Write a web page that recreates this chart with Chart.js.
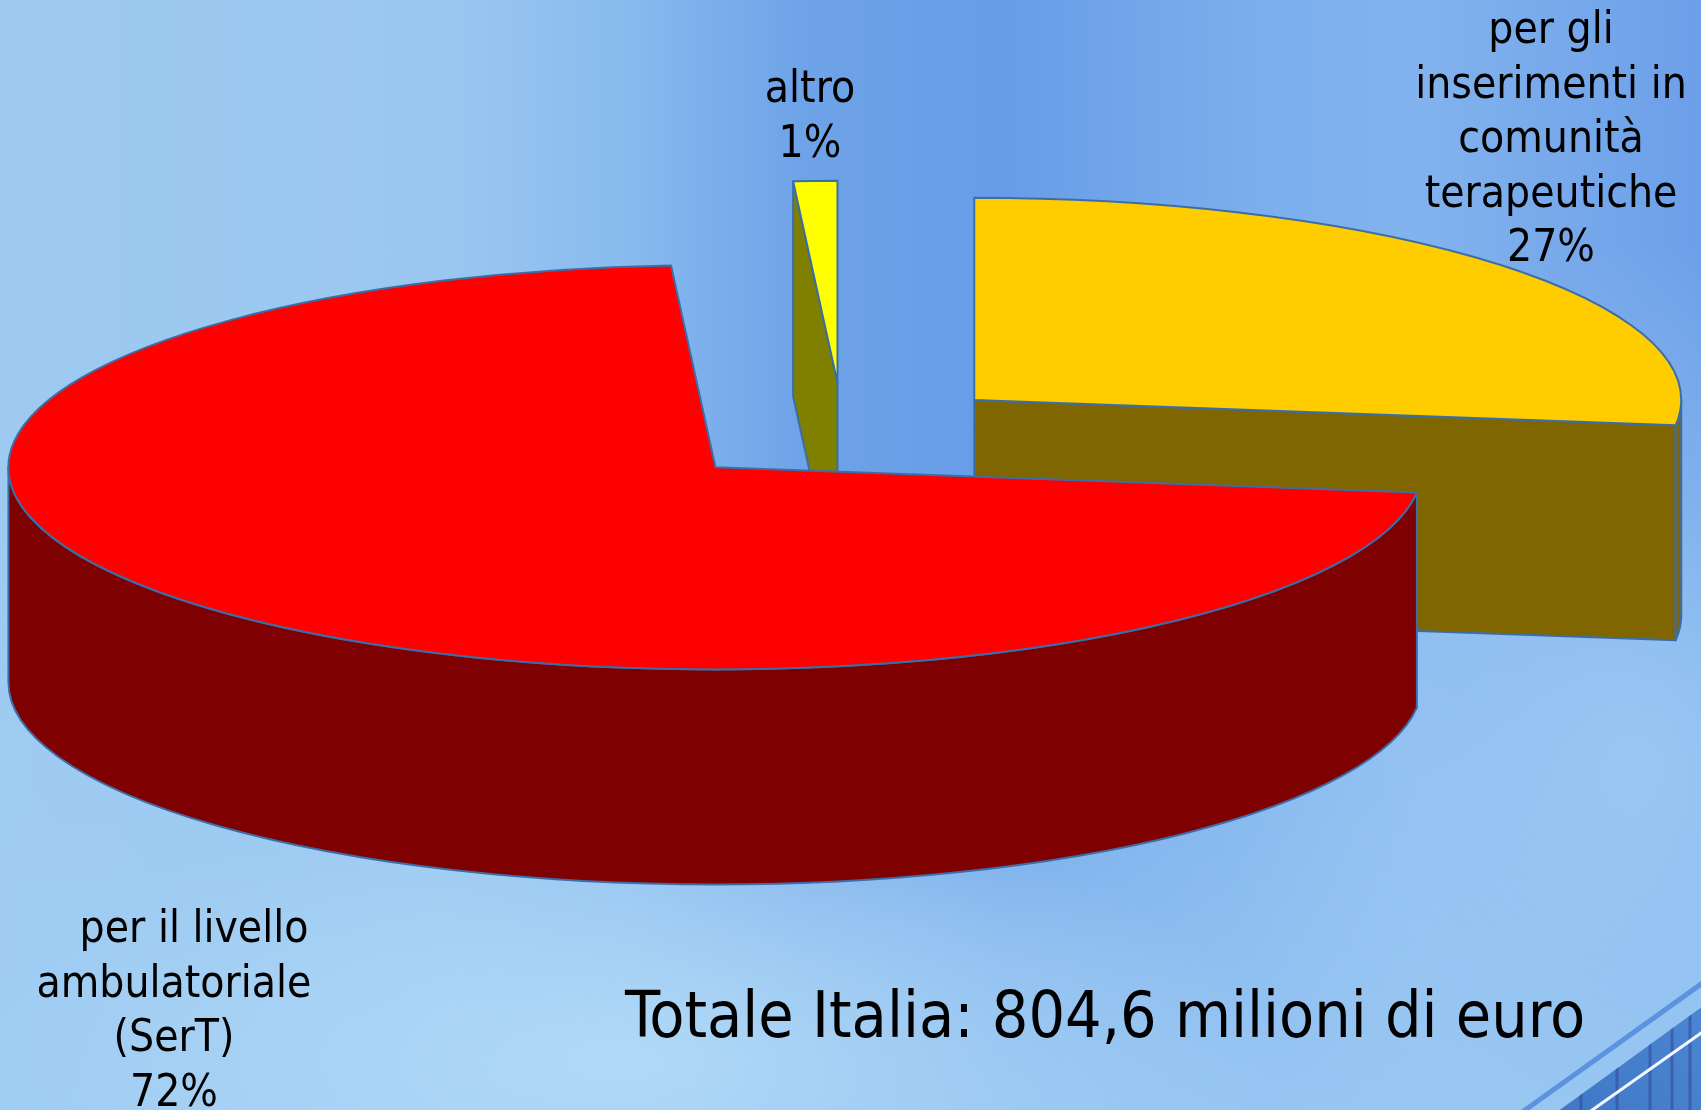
<!DOCTYPE html>
<html>
<head>
<meta charset="utf-8">
<script src="https://cdn.jsdelivr.net/npm/chart.js@4/dist/chart.umd.min.js"></script>
<style>
  html, body { margin: 0; padding: 0; width: 1701px; height: 1110px; overflow: hidden; }
  body {
    background:
      radial-gradient(ellipse 650px 260px at 620px 1060px, rgba(178,218,247,0.95), rgba(178,218,247,0) 100%),
      radial-gradient(ellipse 420px 520px at 1640px 760px, rgba(160,205,244,0.8), rgba(160,205,244,0) 100%),
      linear-gradient(180deg, rgba(160,205,244,0) 0px, rgba(160,205,244,0) 500px, rgba(160,205,244,0.75) 1110px),
      linear-gradient(90deg, #9ecaf1 0px, #9ac7f0 450px, #88baee 630px, #6ea3e8 800px, #679de7 1000px, #7aaeed 1250px, #82b3ee 1420px, #6c9fe8 1701px);
  }
  canvas { display: block; }
</style>
</head>
<body>
<canvas id="chart" width="1701" height="1110"></canvas>
<script>
// Category names (one entry per line of the label) and their shares of the total, in percent
const categories = [
  ['per gli', 'inserimenti in', 'comunità', 'terapeutiche'],
  ['per il livello', 'ambulatoriale', '(SerT)'],
  ['altro']
];
const shares = [27, 72, 1];
const totalText = 'Totale Italia: 804,6 milioni di euro';

// Slice colours (top faces); the side walls use the same hue at half brightness
const sliceColors = ['#FFCC00', '#FF0000', '#FFFF00'];
const edgeColor = '#3b6ea8';

// 3D projection of the pie
const view = { cx: 843, cy: 433, radius: 707, tilt: 0.286, depth: 215, explode: 0.2475 };

// Text placement: centre x and first baseline of each slice label (plus per-line nudges)
const labelPlaces = [
  { x: 1551, y: 43, shift: [] },
  { x: 174, y: 942, shift: [20] },
  { x: 810, y: 102, shift: [] }
];
const labelFont = '44px "DejaVu Sans Condensed", "DejaVu Sans", sans-serif';
const labelLineHeight = 54.5;
const totalPlace = { x: 625, y: 1037 };
const totalFont = '64px "DejaVu Sans Condensed", "DejaVu Sans", sans-serif';

function halfTone(hex) {
  const n = parseInt(hex.slice(1), 16);
  const r = ((n >> 16) & 255) >> 1, g = ((n >> 8) & 255) >> 1, b = (n & 255) >> 1;
  return `rgb(${r},${g},${b})`;
}

// Decorative corner swoosh in the page background
const cornerDecor = {
  id: 'cornerDecor',
  beforeDraw(chart) {
    const ctx = chart.ctx;
    ctx.save();
    ctx.beginPath();
    ctx.moveTo(1557, 1112); ctx.lineTo(1703, 1006); ctx.lineTo(1703, 1112); ctx.closePath();
    const g = ctx.createLinearGradient(1560, 1110, 1701, 1000);
    g.addColorStop(0, '#3f78c6'); g.addColorStop(1, '#4c86d2');
    ctx.fillStyle = g; ctx.fill();
    ctx.clip();
    ctx.strokeStyle = 'rgba(50,70,150,0.55)';
    ctx.lineWidth = 3;
    [1581, 1617, 1650, 1672, 1690].forEach(x => {
      ctx.beginPath(); ctx.moveTo(x, 1000); ctx.lineTo(x, 1112); ctx.stroke();
    });
    ctx.restore();
    ctx.save();
    ctx.strokeStyle = '#5c93e1'; ctx.lineWidth = 5;
    ctx.beginPath(); ctx.moveTo(1521, 1113); ctx.lineTo(1704, 982); ctx.stroke();
    ctx.strokeStyle = '#f4f8ff'; ctx.lineWidth = 3;
    ctx.beginPath(); ctx.moveTo(1588, 1113); ctx.lineTo(1704, 1031); ctx.stroke();
    ctx.restore();
  }
};

// Draws the pie as an exploded, extruded 3D disc from the arc elements Chart.js computed
const pie3d = {
  id: 'pie3d',
  beforeDatasetDraw() { return false; },
  afterDatasetsDraw(chart) {
    const ctx = chart.ctx;
    const meta = chart.getDatasetMeta(0);
    const rx = view.radius, ry = view.radius * view.tilt, D = view.depth;
    const slices = meta.data.map((arc, i) => {
      const p = arc.getProps(['startAngle', 'endAngle'], true);
      const mid = (p.startAngle + p.endAngle) / 2;
      return {
        i, a0: p.startAngle, a1: p.endAngle, mid,
        vx: view.cx + rx * view.explode * Math.cos(mid),
        vy: view.cy + ry * view.explode * Math.sin(mid),
        fill: arc.options.backgroundColor
      };
    });
    slices.sort((s, t) => Math.sin(s.mid) - Math.sin(t.mid));

    ctx.save();
    ctx.lineWidth = 2;
    ctx.lineJoin = 'round';
    ctx.strokeStyle = edgeColor;
    const paint = (color) => { ctx.fillStyle = color; ctx.fill(); ctx.stroke(); };

    for (const s of slices) {
      const side = halfTone(s.fill);
      const rim = a => [s.vx + rx * Math.cos(a), s.vy + ry * Math.sin(a)];
      // radial cut walls facing the viewer
      const walls = [];
      if (Math.cos(s.a0) < -1e-6) walls.push(s.a0);
      if (Math.cos(s.a1) > 1e-6) walls.push(s.a1);
      for (const a of walls) {
        const [x, y] = rim(a);
        ctx.beginPath();
        ctx.moveTo(s.vx, s.vy); ctx.lineTo(x, y); ctx.lineTo(x, y + D); ctx.lineTo(s.vx, s.vy + D);
        ctx.closePath();
        paint(side);
      }
      // outer curved wall on the front half
      for (let n = -1; n <= 1; n++) {
        const lo = Math.max(s.a0, 2 * Math.PI * n), hi = Math.min(s.a1, 2 * Math.PI * n + Math.PI);
        if (hi - lo <= 1e-6) continue;
        const [hx, hy] = rim(hi);
        ctx.beginPath();
        ctx.ellipse(s.vx, s.vy, rx, ry, 0, lo, hi, false);
        ctx.lineTo(hx, hy + D);
        ctx.ellipse(s.vx, s.vy + D, rx, ry, 0, hi, lo, true);
        ctx.closePath();
        paint(side);
      }
      // top face
      const [sx, sy] = rim(s.a0);
      ctx.beginPath();
      ctx.moveTo(s.vx, s.vy);
      ctx.lineTo(sx, sy);
      ctx.ellipse(s.vx, s.vy, rx, ry, 0, s.a0, s.a1, false);
      ctx.closePath();
      paint(s.fill);
    }
    ctx.restore();
  },
  afterDraw(chart) {
    const ctx = chart.ctx;
    const values = chart.data.datasets[0].data;
    const total = values.reduce((a, b) => a + b, 0);
    ctx.save();
    ctx.fillStyle = '#000';
    ctx.textAlign = 'center';
    ctx.textBaseline = 'alphabetic';
    ctx.font = labelFont;
    chart.data.labels.forEach((lines, i) => {
      const pct = Math.round(values[i] / total * 100) + '%';
      const place = labelPlaces[i];
      [...lines, pct].forEach((t, k) =>
        ctx.fillText(t, place.x + (place.shift[k] || 0), place.y + k * labelLineHeight));
    });
    ctx.textAlign = 'left';
    ctx.font = totalFont;
    ctx.fillText(totalText, totalPlace.x, totalPlace.y);
    ctx.restore();
  }
};

new Chart(document.getElementById('chart'), {
  type: 'pie',
  data: {
    labels: categories,
    datasets: [{ data: shares, backgroundColor: sliceColors, borderWidth: 0 }]
  },
  options: {
    responsive: false,
    animation: false,
    events: [],
    plugins: { legend: { display: false }, tooltip: { enabled: false } }
  },
  plugins: [cornerDecor, pie3d]
});
</script>
</body>
</html>
